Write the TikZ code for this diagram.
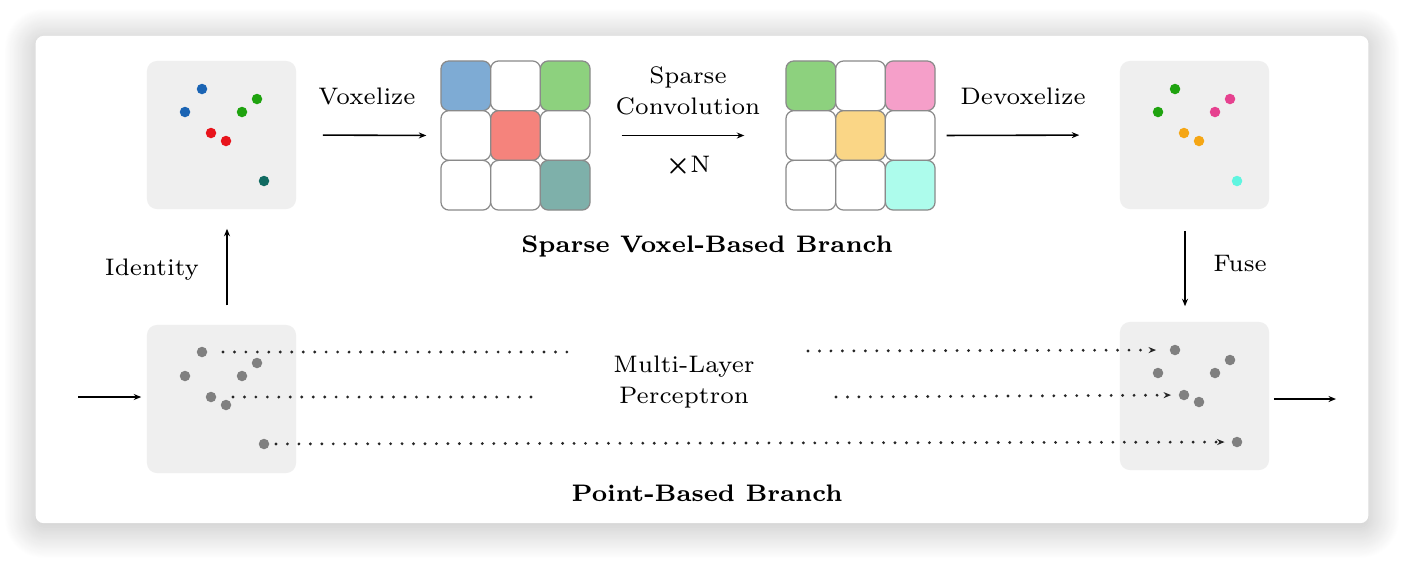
\documentclass[tikz,border=0pt]{standalone}
\usepackage{amsmath}
\usepackage{xcolor}
\usepackage{tikz}
\usetikzlibrary{arrows.meta, shadows.blur}

\definecolor{panelgray}{HTML}{EFEFEF}
\definecolor{cellgray}{HTML}{8A8A8A}
\definecolor{ptgray}{HTML}{808080}
\definecolor{cblue}{HTML}{1A64B4}
\definecolor{cgreen}{HTML}{1FA30F}
\definecolor{cred}{HTML}{E8141C}
\definecolor{cteal}{HTML}{116B62}
\definecolor{cpink}{HTML}{E6418F}
\definecolor{corange}{HTML}{F5A614}
\definecolor{ccyan}{HTML}{5FF5E0}
\definecolor{vblue}{HTML}{7EABD4}
\definecolor{vgreen}{HTML}{8DD17E}
\definecolor{vred}{HTML}{F5837C}
\definecolor{vteal}{HTML}{7EB0AA}
\definecolor{vpink}{HTML}{F59FC9}
\definecolor{vyellow}{HTML}{FAD686}
\definecolor{vcyan}{HTML}{ADFCEC}

\tikzset{
    frame/.style={fill=white, rounded corners=0.08cm, minimum width=13.32cm, minimum height=4.87cm,
        blur shadow={shadow xshift=0cm, shadow yshift=-0.04cm, shadow blur radius=0.32cm,
            shadow opacity=28, shadow blur steps=40}},
    lbl/.style={font=\fontsize{6.8}{8.9}\selectfont, align=center, inner sep=0pt},
    title/.style={font=\fontsize{6.8}{8.9}\selectfont\bfseries, inner sep=0pt},
    panel/.style={fill=panelgray, rounded corners=0.1cm, minimum width=1.49cm, minimum height=1.48cm, inner sep=0pt},
    pt/.style={circle, inner sep=0pt, minimum size=0.105cm},
    cell/.style={draw=cellgray, line width=0.35pt, rounded corners=0.08cm, minimum size=0.497cm, inner sep=0pt},
    flow/.style={-{Stealth[length=0.075cm, width=0.06cm]}, line width=0.45pt},
    mlpline/.style={line width=0.9pt, line cap=round, dash pattern=on 0pt off 3.26pt, draw=black!85},
    mlparrow/.style={mlpline, -{Stealth[length=0.075cm, width=0.06cm, line cap=butt]}},
}

\begin{document}
\begin{tikzpicture}[x=0.01cm, y=-0.01cm]
        \useasboundingbox (0,0) rectangle (1404,560);
        \node[frame] (frame) at (702,279.5) {};

        % voxel branch
        \node[panel] (tl) at (221.5,135) {};
        \node[pt, fill=cblue]  (tl1) at (202,89)  {};
        \node[pt, fill=cblue]  (tl2) at (185,112) {};
        \node[pt, fill=cgreen] (tl3) at (257,99)  {};
        \node[pt, fill=cgreen] (tl4) at (242,112) {};
        \node[pt, fill=cred]   (tl5) at (211,133) {};
        \node[pt, fill=cred]   (tl6) at (226,141) {};
        \node[pt, fill=cteal]  (tl7) at (264,181) {};

        \node[cell, fill=vblue]  (va11) at (465.8,85.8) {};
        \node[cell, fill=white]  (va12) at (515.5,85.8) {};
        \node[cell, fill=vgreen] (va13) at (565.2,85.8) {};
        \node[cell, fill=white]  (va21) at (465.8,135.5) {};
        \node[cell, fill=vred]   (va22) at (515.5,135.5) {};
        \node[cell, fill=white]  (va23) at (565.2,135.5) {};
        \node[cell, fill=white]  (va31) at (465.8,185.2) {};
        \node[cell, fill=white]  (va32) at (515.5,185.2) {};
        \node[cell, fill=vteal]  (va33) at (565.2,185.2) {};

        \node[cell, fill=vgreen]  (vb11) at (810.8,85.8) {};
        \node[cell, fill=white]   (vb12) at (860.5,85.8) {};
        \node[cell, fill=vpink]   (vb13) at (910.2,85.8) {};
        \node[cell, fill=white]   (vb21) at (810.8,135.5) {};
        \node[cell, fill=vyellow] (vb22) at (860.5,135.5) {};
        \node[cell, fill=white]   (vb23) at (910.2,135.5) {};
        \node[cell, fill=white]   (vb31) at (810.8,185.2) {};
        \node[cell, fill=white]   (vb32) at (860.5,185.2) {};
        \node[cell, fill=vcyan]   (vb33) at (910.2,185.2) {};

        \node[panel] (tr) at (1194.5,135) {};
        \node[pt, fill=cgreen]  (tr1) at (1175,89)  {};
        \node[pt, fill=cgreen]  (tr2) at (1158,112) {};
        \node[pt, fill=cpink]   (tr3) at (1230,99)  {};
        \node[pt, fill=cpink]   (tr4) at (1215,112) {};
        \node[pt, fill=corange] (tr5) at (1184,133) {};
        \node[pt, fill=corange] (tr6) at (1199,141) {};
        \node[pt, fill=ccyan]   (tr7) at (1237,181) {};

        \node[lbl] (voxelize) at (367,96) {Voxelize};
        \node[lbl] (spconv) at (688,91) {Sparse\\Convolution};
        \node[lbl] (times) at (688,166) {$\boldsymbol{\times}$N};
        \node[lbl] (devoxelize) at (1023,96) {Devoxelize};
        \node[title] (voxtitle) at (707,246) {Sparse Voxel-Based Branch};

        \draw[flow, shorten <=0.26cm, shorten >=0.14cm] (tl.east) -- (va21.west);
        \draw[flow, shorten <=0.31cm, shorten >=0.41cm] (va23.east) -- (vb21.west);
        \draw[flow, shorten <=0.11cm, shorten >=0.40cm] (vb23.east) -- (tr.west);

        % point branch
        \node[panel] (bl) at (221.5,399) {};
        \node[pt, fill=ptgray] (bl1) at (202,352) {};
        \node[pt, fill=ptgray] (bl2) at (185,376) {};
        \node[pt, fill=ptgray] (bl3) at (257,363) {};
        \node[pt, fill=ptgray] (bl4) at (242,376) {};
        \node[pt, fill=ptgray] (bl5) at (211,397) {};
        \node[pt, fill=ptgray] (bl6) at (226,405) {};
        \node[pt, fill=ptgray] (bl7) at (264,444) {};

        \node[panel] (br) at (1194.5,396) {};
        \node[pt, fill=ptgray] (br1) at (1175,350) {};
        \node[pt, fill=ptgray] (br2) at (1158,373) {};
        \node[pt, fill=ptgray] (br3) at (1230,360) {};
        \node[pt, fill=ptgray] (br4) at (1215,373) {};
        \node[pt, fill=ptgray] (br5) at (1184,395) {};
        \node[pt, fill=ptgray] (br6) at (1199,402) {};
        \node[pt, fill=ptgray] (br7) at (1237,442) {};

        \node[lbl] (mlp) at (684,382) {Multi-Layer\\Perceptron};
        \node[title] (pttitle) at (707,493) {Point-Based Branch};

        \coordinate (mlp1a) at (568,352);
        \coordinate (mlp1b) at (808,351);
        \coordinate (mlp2a) at (537,397);
        \coordinate (mlp2b) at (836,397);
        \draw[mlpline, shorten <=0.15cm] (bl1) -- (mlp1a);
        \draw[mlparrow, shorten >=0.13cm] (mlp1b) -- (br1);
        \draw[mlpline, shorten <=0.16cm] (bl5) -- (mlp2a);
        \draw[mlparrow, shorten >=0.07cm] (mlp2b) -- (br5);
        \draw[mlparrow, shorten <=0.06cm, shorten >=0.065cm] (bl7) -- (br7);

        % links between branches
        \node[lbl] (identity) at (152,270) {Identity};
        \node[lbl] (fuse) at (1240,263) {Fuse};
        \draw[flow, shorten <=0.19cm, shorten >=0.19cm] ([xshift=0.055cm]bl.north) -- ([xshift=0.055cm]tl.south);
        \draw[flow, shorten <=0.21cm, shorten >=0.15cm] ([xshift=-0.095cm]tr.south) -- ([xshift=-0.095cm]br.north);

        \coordinate (in) at (78,397);
        \coordinate (out) at (1336,399);
        \draw[flow, shorten >=0.05cm] (in) -- (in -| bl.west);
        \draw[flow, shorten <=0.04cm] (out -| br.east) -- (out);
\end{tikzpicture}
\end{document}
